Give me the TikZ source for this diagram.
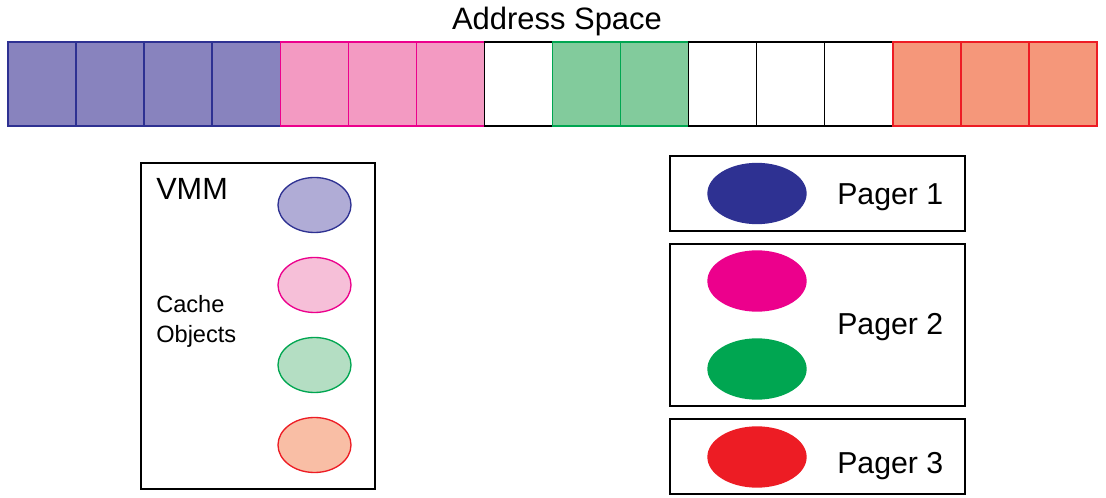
\documentclass[tikz,border=0pt]{standalone}
\usepackage{fontspec}
\setmainfont{Liberation Sans}
\usetikzlibrary{shapes.geometric}
\definecolor{cblue}{HTML}{2E3192}
\definecolor{cbluef}{HTML}{8883BE}
\definecolor{cbluel}{HTML}{B0ACD6}
\definecolor{cpink}{HTML}{EC008C}
\definecolor{cpinkf}{HTML}{F39AC2}
\definecolor{cpinkl}{HTML}{F6BFD8}
\definecolor{cgreen}{HTML}{00A651}
\definecolor{cgreenf}{HTML}{82CB9C}
\definecolor{cgreenl}{HTML}{B4DEC3}
\definecolor{cred}{HTML}{ED1C24}
\definecolor{credf}{HTML}{F5977A}
\definecolor{credl}{HTML}{F9BEA5}
\tikzset{
  px/.style={x=0.75pt,y=-0.75pt},
  cell/.style={draw, line width=1.1pt, minimum width=51.05pt, minimum height=63pt, inner sep=0pt, outer sep=0pt},
  box/.style={draw=black, line width=1.1pt, fill=white},
  obj/.style={ellipse, line width=1pt, minimum width=54.75pt, minimum height=41.25pt, inner sep=0pt},
  pobj/.style={ellipse, minimum width=74.5pt, minimum height=46pt, inner sep=0pt},
  lbl/.style={inner sep=0pt, anchor=west, font=\fontsize{22.7}{27}\selectfont},
}
\begin{document}
\begin{tikzpicture}[px]
\useasboundingbox (0,0) rectangle (1106,498);
% address space
\node[font=\fontsize{23.2}{27}\selectfont, inner sep=0pt] (title) at (557,22) {Address Space};
\foreach \i/\f/\d in {0/cbluef/cblue,1/cbluef/cblue,2/cbluef/cblue,3/cbluef/cblue,
  4/cpinkf/cpink,5/cpinkf/cpink,6/cpinkf/cpink,7/white/black,
  8/cgreenf/cgreen,9/cgreenf/cgreen,10/white/black,11/white/black,12/white/black,
  13/credf/cred,14/credf/cred,15/credf/cred}{
  \node[cell, fill=\f, draw=\d] (c\i) at ({8+68.06*(\i+0.5)},84) {};
}
% VMM box
\draw[box] (141,163) rectangle (375,489);
\node[inner sep=0pt, anchor=west, font=\fontsize{23}{27}\selectfont] (vmm) at (156,189) {VMM};
\node[inner sep=0pt, anchor=west, align=left, font=\fontsize{17.7}{22.5}\selectfont] (cache) at (156,321) {Cache\\Objects};
\node[obj, draw=cblue, fill=cbluel] (o1) at (314.5,205) {};
\node[obj, draw=cpink, fill=cpinkl] (o2) at (314.5,285) {};
\node[obj, draw=cgreen, fill=cgreenl] (o3) at (314.5,365) {};
\node[obj, draw=cred, fill=credl] (o4) at (314.5,445) {};
% pagers
\draw[box] (670,156) rectangle (965,231);
\draw[box] (670,244) rectangle (965,406);
\draw[box] (670,419) rectangle (965,494);
\node[pobj, fill=cblue] (p1) at (757,193.5) {};
\node[pobj, fill=cpink] (p2a) at (757,281) {};
\node[pobj, fill=cgreen] (p2b) at (757,369) {};
\node[pobj, fill=cred] (p3) at (757,457) {};
\node[lbl] (l1) at (837,197) {Pager 1};
\node[lbl] (l2) at (837,327) {Pager 2};
\node[lbl] (l3) at (837,466) {Pager 3};
\end{tikzpicture}
\end{document}
